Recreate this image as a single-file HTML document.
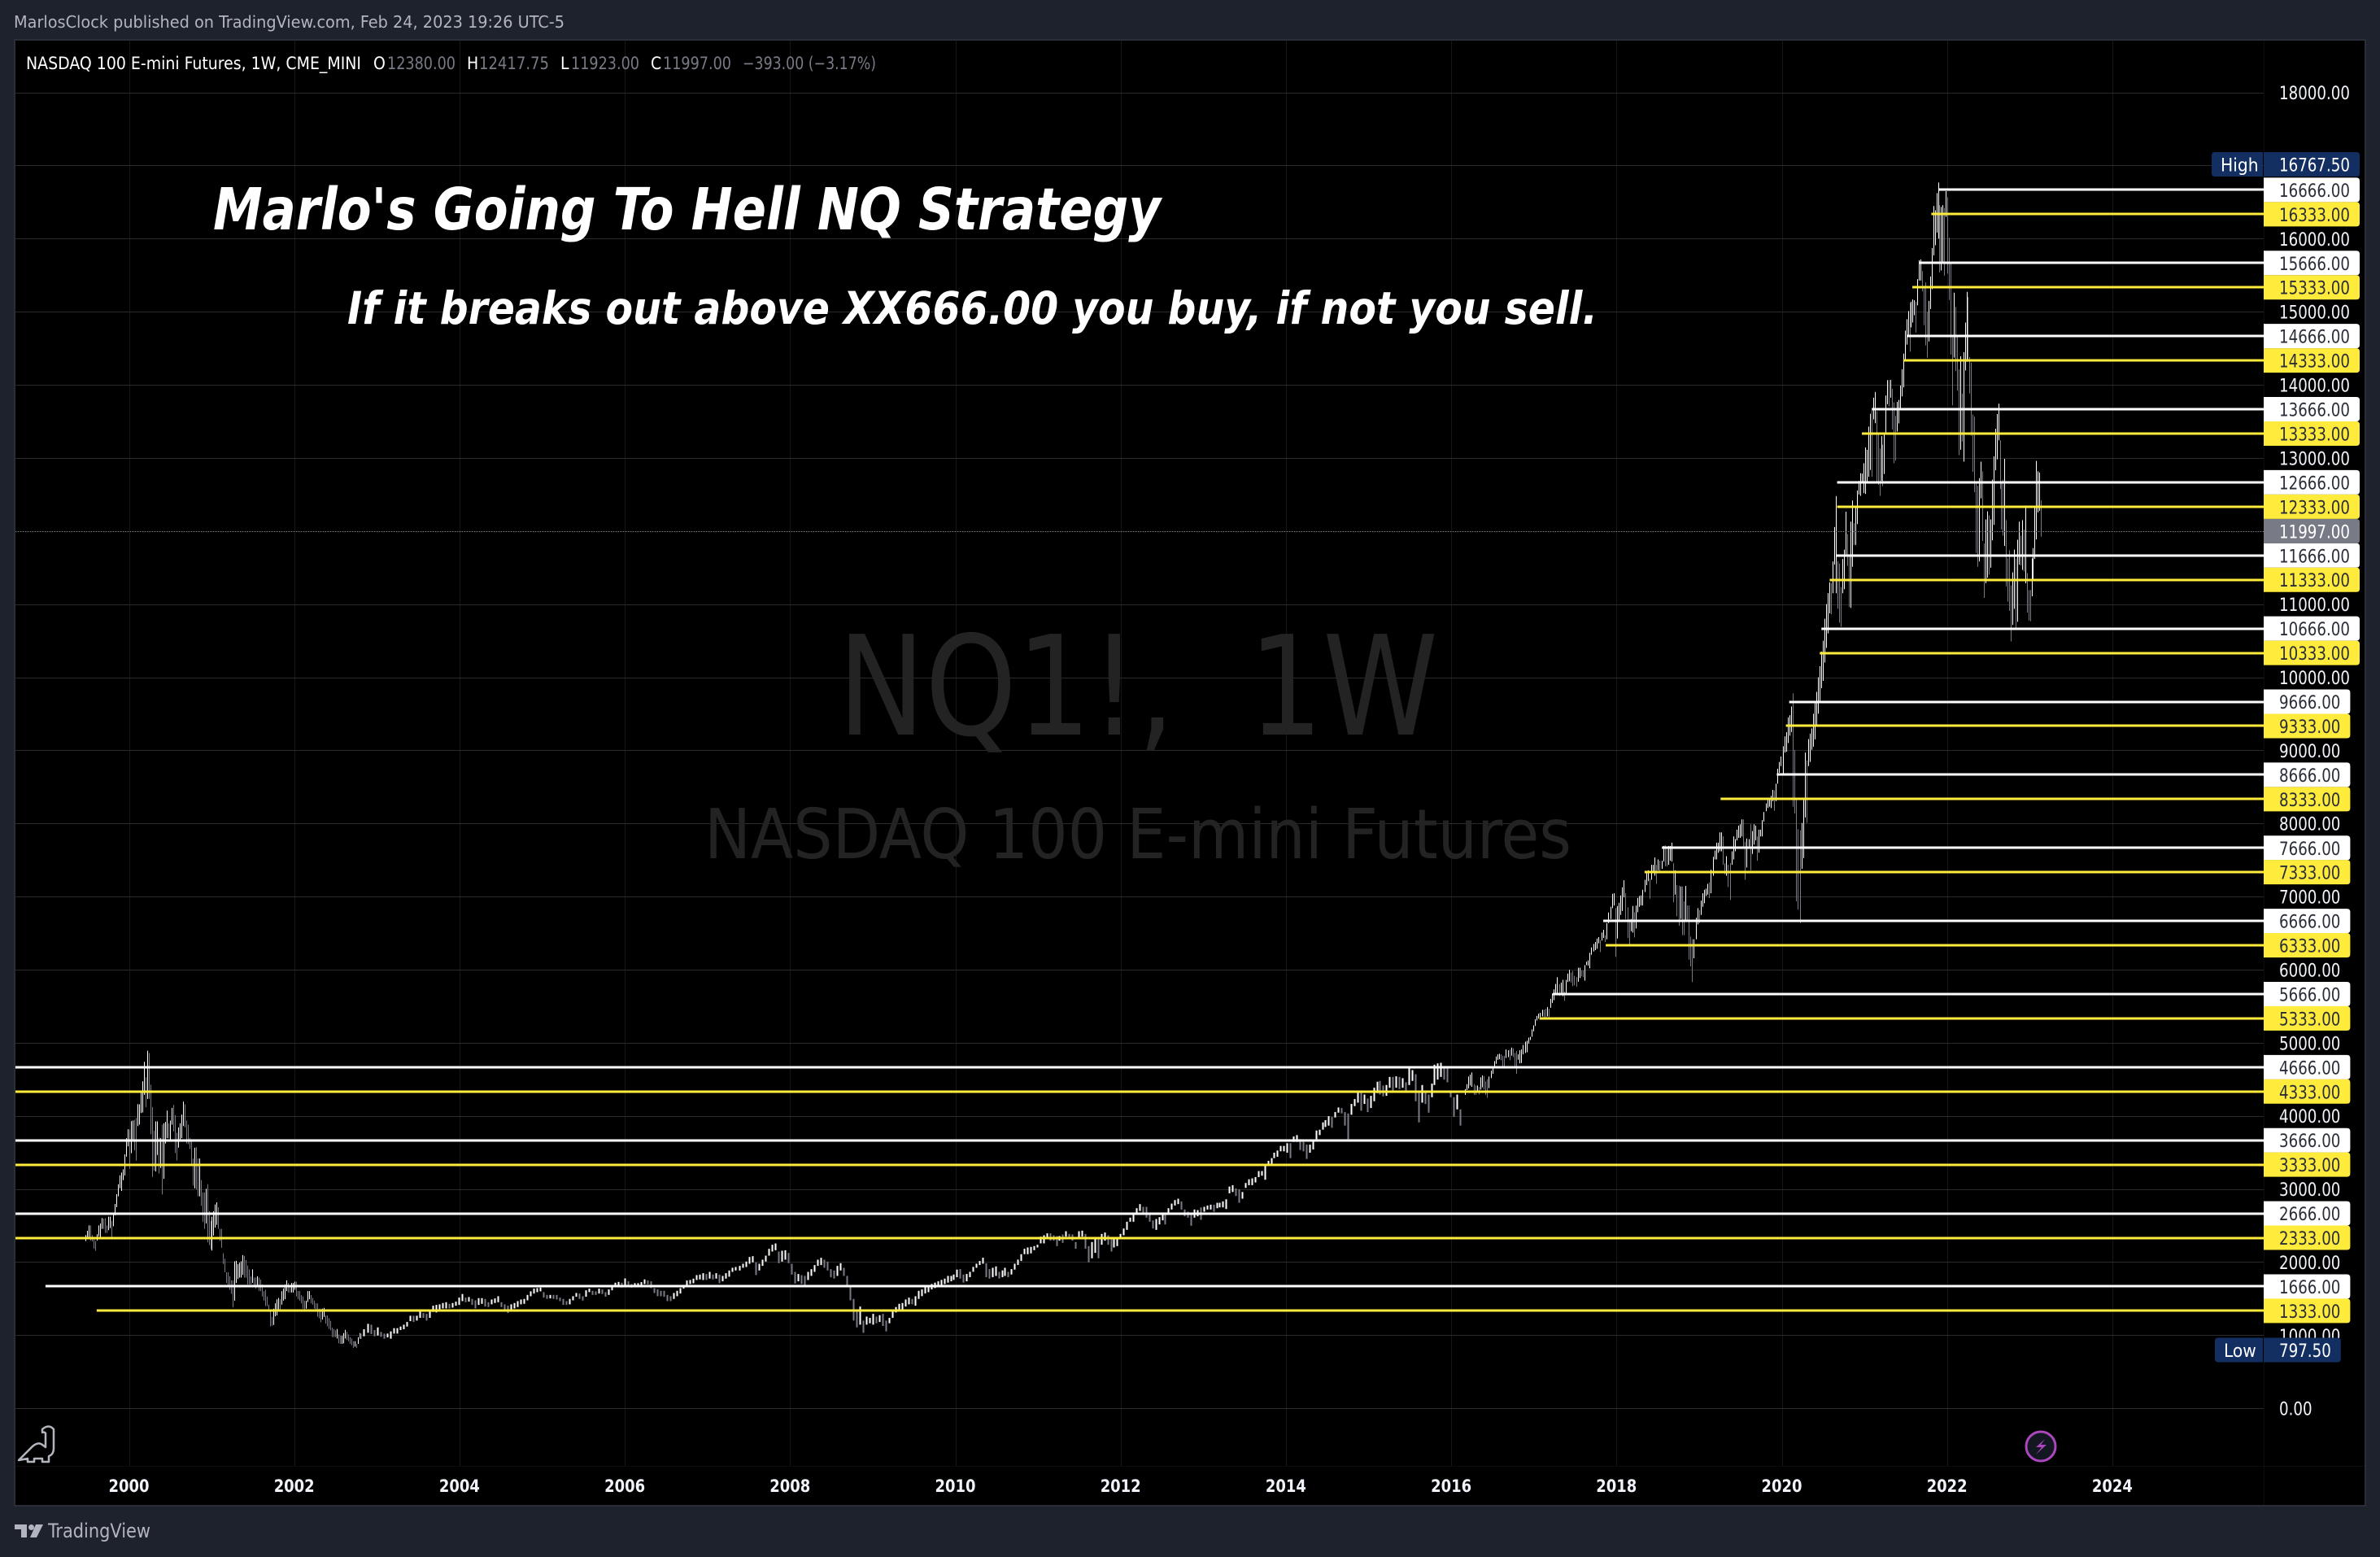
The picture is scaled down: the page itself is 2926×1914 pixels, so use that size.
<!DOCTYPE html>
<html lang="en">
<head>
<meta charset="utf-8">
<title>NASDAQ 100 E-mini Futures, 1W chart</title>
<style>
html,body{margin:0;padding:0;background:#1e222d;}
svg{display:block;}
text{font-family:"DejaVu Sans","Liberation Sans",sans-serif;font-stretch:condensed;}
</style>
</head>
<body>
<svg id="chart" xmlns="http://www.w3.org/2000/svg" width="2926" height="1914" viewBox="0 0 2926 1914">
  <rect x="0" y="0" width="2926" height="1914" fill="#1e222d"/>
  <text x="17" y="34" font-size="20.5" fill="#b2b5be" textLength="677" lengthAdjust="spacingAndGlyphs">MarlosClock published on TradingView.com, Feb 24, 2023 19:26 UTC-5</text>
  <rect x="18" y="49" width="2890" height="1802" fill="#000" stroke="#2a2e39" stroke-width="2"/>
  <g id="grid"></g>
  <text x="1030" y="903" font-size="170" fill="#232323" textLength="738" lengthAdjust="spacingAndGlyphs">NQ1!,&#160; 1W</text>
  <text x="866" y="1055" font-size="85" fill="#232323" textLength="1066" lengthAdjust="spacingAndGlyphs">NASDAQ 100 E-mini Futures</text>
  <g id="bars"></g>
  <g id="levels"></g>
  <text x="262" y="282" font-size="71" font-style="italic" font-weight="bold" fill="#fff" textLength="1165" lengthAdjust="spacingAndGlyphs">Marlo's Going To Hell NQ Strategy</text>
  <text x="427" y="398" font-size="55" font-style="italic" font-weight="bold" fill="#fff" textLength="1537" lengthAdjust="spacingAndGlyphs">If it breaks out above XX666.00 you buy, if not you sell.</text>
  <g font-size="21">
    <text x="32" y="85" fill="#fff" textLength="412" lengthAdjust="spacingAndGlyphs">NASDAQ 100 E-mini Futures, 1W, CME_MINI</text>
    <text x="459" y="85" fill="#fff">O</text>
    <text x="476" y="85" fill="#787b86" textLength="84" lengthAdjust="spacingAndGlyphs">12380.00</text>
    <text x="574" y="85" fill="#fff">H</text>
    <text x="589" y="85" fill="#787b86" textLength="86" lengthAdjust="spacingAndGlyphs">12417.75</text>
    <text x="689" y="85" fill="#fff">L</text>
    <text x="702" y="85" fill="#787b86" textLength="84" lengthAdjust="spacingAndGlyphs">11923.00</text>
    <text x="800" y="85" fill="#fff">C</text>
    <text x="815" y="85" fill="#787b86" textLength="84" lengthAdjust="spacingAndGlyphs">11997.00</text>
    <text x="913" y="85" fill="#787b86" textLength="164" lengthAdjust="spacingAndGlyphs">−393.00 (−3.17%)</text>
  </g>
  <g id="axes"></g>
  <path d="M23 1795 L40 1778 Q47 1772 52 1776 L56 1779 L56 1762 Q55 1760 52 1761 L52 1757 Q60 1750 66 1757 L66 1780 Q66 1788 60 1790 L60 1797 L52 1797 L52 1793 L42 1793 L42 1797 L34 1797 L34 1793 Z" fill="none" stroke="#b2b5be" stroke-width="2.5" stroke-linejoin="round"/>
  <g>
    <circle cx="2509" cy="1778" r="18" fill="#131722" stroke="#ab47bc" stroke-width="3"/>
    <path d="M2514 1769 L2503 1779 L2510 1779 L2503 1788 L2516 1776 L2509 1776 Z" fill="#ab47bc"/>
  </g>
  <g>
    <path d="M18 1874 H33 V1890 H26 V1880 H18 Z" fill="#b2b5be"/>
    <circle cx="38.5" cy="1877.500" r="3.500" fill="#b2b5be"/>
    <path d="M44 1874 H53 L45 1890 H37 Z" fill="#b2b5be"/>
    <text x="59" y="1890" font-size="24" fill="#b2b5be" textLength="126" lengthAdjust="spacingAndGlyphs">TradingView</text>
  </g>
</svg>
<script>
const earlyFrom = 1999.473, earlyTo = 2002.790;
const earlyHigh = [2369,2428,2502,2502,2369,2325,2288,2380,2502,2528,2602,2595,2602,2502,2621,2621,2565,2658,2795,2928,3065,3188,3225,3269,3473,3695,3817,3813,3928,3936,3947,3973,4161,4158,4324,4472,4739,4528,4891,4861,4428,4121,3798,3924,3924,3702,3695,3880,3898,3917,4073,3898,3936,4110,4150,4010,3769,3843,3898,4017,4195,4158,3936,3880,3695,3676,3417,3565,3573,3417,3417,3121,2954,2954,3002,3065,2695,2565,2621,2695,2788,2817,2751,2454,2454,2121,2047,1862,1862,1806,1751,1751,2010,2017,1973,1991,2010,2095,2084,2028,1954,1899,1806,1899,1788,1788,1806,1788,1762,1695,1603,1621,1529,1418,1343,1251,1362,1436,1492,1510,1492,1603,1640,1695,1751,1714,1677,1714,1714,1732,1732,1603,1603,1547,1529,1473,1473,1603,1603,1547,1510,1473,1436,1436,1362,1362,1362,1373,1269,1269,1232,1195,1103,1084,1066,1084,1010,992,992,1029,1073,1047,1010,973,955,918,918,881,973,1029];
const earlyLow = [2288,2325,2343,2295,2280,2184,2154,2295,2354,2343,2454,2454,2399,2399,2436,2465,2343,2491,2639,2751,2899,3010,2973,3121,3184,3443,3584,3276,3491,3658,3528,3387,3861,3880,4039,4047,4287,4121,4232,4232,3750,3165,3250,3239,3465,3213,3288,2925,3139,3621,3695,3695,3676,3880,3787,3491,3391,3565,3658,3695,3861,3843,3621,3613,3547,3325,3047,3010,2991,2899,2899,2769,2547,2454,2528,2269,2232,2177,2158,2362,2473,2510,2454,2288,2195,1973,1862,1714,1677,1621,1566,1380,1473,1714,1769,1788,1788,1825,1788,1788,1695,1695,1695,1714,1677,1640,1658,1603,1603,1529,1473,1399,1399,1343,1121,1129,1140,1258,1269,1343,1343,1418,1473,1492,1603,1584,1584,1584,1584,1621,1529,1492,1473,1436,1362,1355,1362,1455,1492,1436,1418,1362,1325,1251,1232,1177,1214,1251,1158,1121,1084,1066,973,973,973,955,888,881,881,888,955,936,918,881,862,825,844,825,881,955];

const midAFrom = 2002.805, midATo = 2009.552;
const midAHigh = [1022,1081,1155,1144,1070,1107,1044,1022,1022,1052,1096,1096,1118,1144,1181,1266,1266,1266,1329,1303,1292,1348,1403,1414,1422,1440,1451,1429,1440,1459,1514,1563,1514,1522,1496,1477,1507,1507,1496,1451,1488,1503,1533,1451,1422,1403,1422,1440,1466,1488,1496,1551,1600,1637,1644,1651,1589,1551,1551,1551,1551,1514,1496,1466,1496,1533,1577,1570,1533,1614,1637,1607,1600,1637,1626,1589,1626,1674,1718,1729,1718,1777,1737,1700,1711,1711,1726,1763,1748,1737,1644,1626,1607,1607,1551,1533,1577,1607,1644,1688,1748,1755,1774,1822,1829,1848,1837,1866,1829,1848,1829,1811,1848,1885,1922,1933,1948,1977,2007,2070,2081,1996,1977,2033,2088,2181,2237,2255,2144,2155,2162,2125,1977,1866,1837,1822,1811,1866,1903,1959,2033,2059,2033,2007,1903,1885,1948,1985,1922,1811,1681,1496,1348,1392,1200,1255,1237,1292,1255,1274,1292,1200,1237,1329,1385,1429,1440,1488,1514,1496,1533,1607];
const midALow = [948,985,1033,1015,985,996,978,952,970,952,1022,1022,1070,1081,1118,1192,1181,1200,1237,1237,1200,1237,1318,1311,1355,1366,1366,1366,1377,1403,1414,1466,1451,1459,1414,1366,1414,1429,1392,1385,1422,1440,1451,1385,1340,1303,1329,1366,1385,1422,1429,1477,1533,1570,1589,1600,1514,1496,1503,1496,1488,1466,1414,1414,1422,1477,1526,1496,1474,1526,1589,1551,1551,1570,1563,1526,1551,1614,1674,1681,1651,1688,1663,1651,1659,1659,1663,1700,1696,1644,1577,1533,1533,1526,1466,1466,1496,1533,1570,1637,1681,1700,1711,1755,1763,1755,1755,1774,1763,1774,1711,1737,1774,1800,1866,1885,1885,1922,1933,1977,1996,1822,1885,1948,2007,2088,2144,2162,1985,2007,2033,1985,1829,1707,1737,1700,1681,1755,1811,1866,1948,1959,1922,1885,1792,1774,1811,1885,1811,1663,1477,1200,1107,1144,1033,1144,1163,1144,1163,1181,1126,1052,1163,1237,1311,1348,1340,1392,1422,1422,1403,1496];

const midBFrom = 2009.592, midBTo = 2016.107;
const midBHigh = [1626,1663,1682,1700,1719,1737,1756,1774,1811,1811,1830,1897,1904,1830,1837,1867,1934,1978,2015,2060,1985,1904,1922,1941,1867,1886,1922,1867,1904,1978,2034,2108,2182,2200,2208,2219,2237,2348,2367,2393,2393,2367,2356,2356,2378,2422,2385,2378,2274,2422,2430,2385,2219,2274,2319,2330,2385,2404,2367,2330,2311,2311,2385,2459,2552,2608,2645,2737,2793,2756,2756,2645,2571,2589,2615,2663,2645,2737,2800,2848,2867,2830,2719,2689,2645,2719,2711,2748,2756,2774,2785,2785,2811,2811,2830,2859,3033,3052,3007,2996,2959,3082,3133,3145,3163,3245,3245,3330,3385,3422,3496,3526,3589,3589,3626,3626,3718,3737,3681,3644,3607,3607,3663,3800,3811,3911,3941,3996,3985,4052,4115,4107,4052,4033,4163,4230,4330,4330,4292,4237,4274,4385,4467,4478,4415,4422,4533,4533,4541,4533,4515,4459,4681,4626,4570,4348,4422,4348,4292,4441,4700,4718,4726,4681,4681,4348,4255,4292,4089];
const midBLow = [1534,1571,1589,1626,1645,1663,1682,1700,1719,1737,1756,1793,1774,1719,1737,1793,1867,1922,1960,1978,1793,1774,1793,1811,1774,1793,1811,1793,1830,1897,1960,2015,2108,2108,2119,2163,2200,2256,2256,2311,2293,2293,2219,2293,2263,2348,2311,2293,2182,2311,2348,2182,1997,2052,2126,2052,2237,2293,2237,2145,2200,2219,2311,2367,2441,2552,2552,2645,2700,2645,2608,2552,2459,2441,2515,2571,2515,2645,2719,2774,2793,2719,2626,2608,2497,2608,2626,2578,2689,2719,2719,2689,2737,2748,2748,2726,2941,2959,2904,2811,2867,3015,3052,3052,3089,3163,3182,3126,3330,3330,3422,3441,3515,3515,3496,3422,3644,3644,3533,3515,3411,3496,3541,3681,3737,3811,3848,3867,3837,3978,4044,4033,3867,3681,4015,4133,4181,4070,4163,4052,4107,4200,4311,4292,4267,4274,4385,4348,4385,4367,4385,4348,4422,4478,4200,3911,4181,4163,4044,4255,4422,4496,4533,4496,4459,4255,3985,4089,3867];

const lateAFrom = 2016.167, lateATo = 2020.362;
const lateAHigh = [4367,4434,4538,4564,4593,4434,4416,4416,4397,4527,4553,4545,4471,4501,4538,4619,4664,4749,4812,4841,4849,4841,4823,4823,4908,4897,4908,4934,4923,4860,4886,4841,4897,4908,4971,5015,5027,5071,5082,5182,5238,5323,5367,5397,5408,5452,5452,5464,5490,5464,5600,5675,5730,5804,5897,5804,5823,5860,5701,5860,5945,5997,5960,5982,5915,5897,6026,6026,5989,5989,6063,6108,6126,6230,6304,6352,6378,6426,6445,6404,6508,6545,6471,6637,6782,6860,7037,7045,6841,6871,6915,7015,7126,7222,7045,6852,6693,6693,6871,6786,6878,6982,7008,7015,7093,7230,7322,7359,7248,7434,7434,7534,7434,7508,7489,7489,7693,7700,7656,7693,7693,7737,7459,7359,7156,7148,7137,7137,6934,7145,6878,6878,6452,6415,6415,6711,6841,6815,6945,7045,7093,7108,7174,7193,7367,7545,7630,7737,7737,7878,7878,7822,7452,7552,7434,7459,7619,7822,7785,7915,7970,7989,8056,8056,7748,7793,7785,7989,7896,7989,7970,7822,7915,7915,8045,8156,8274,8341,8322,8378,8459,8452,8544,8748,8841,8915,9055,9192,9248,9450,9480,9600,9780,9007,8341,7922,7907,8007,8322,8970,8859,9155,9230,9300];
const lateALow = [4286,4353,4375,4416,4397,4286,4286,4323,4293,4360,4390,4360,4286,4249,4379,4516,4575,4656,4712,4767,4775,4760,4675,4645,4793,4804,4760,4823,4804,4664,4575,4767,4719,4723,4841,4860,4871,4990,5038,5082,5156,5230,5304,5330,5352,5360,5341,5323,5360,5352,5478,5545,5582,5656,5675,5638,5656,5638,5575,5675,5830,5841,5823,5775,5786,5767,5834,5886,5908,5897,5849,6063,6056,6019,6204,6249,6267,6286,6360,6241,6397,6434,6378,6415,6637,6693,6841,6878,6175,6426,6656,6748,6804,6989,6693,6434,6323,6526,6508,6441,6563,6786,6860,6878,6878,7063,7156,7211,6971,7230,7322,7285,7174,7359,7341,7378,7478,7415,7415,7434,7489,7478,6923,7026,6730,6600,6693,6471,6471,6656,6656,6137,6045,5830,6156,6415,6619,6637,6748,6860,6908,7008,7026,6978,7045,7285,7508,7508,7600,7619,7619,7434,7304,7285,7130,6952,7434,7508,7619,7767,7804,7804,7822,7656,7230,7397,7656,7359,7582,7711,7767,7489,7600,7822,7822,8026,8167,8211,8230,8211,8304,8174,8304,8544,8693,8785,8674,8970,8981,9100,9200,9250,8230,8137,6934,6822,6637,7378,7526,8082,8008,8785,8841,9007];

const lateBFrom = 2020.382, lateBTo = 2020.914;
const lateBHigh = [9500,9650,9800,10000,10150,10350,10500,10800,11000,11150,11298,11285,11583,12055,12477,11587,11553,11234,11617,11745,12264,11958,11681,12128,12417,12107,12319,12553];
const lateBLow = [9050,9150,9350,9500,9650,9850,9950,10200,10400,10600,10873,10860,11149,11541,11149,10936,10745,10690,11149,11204,11681,11524,10958,10949,11511,11809,11809,12094];

const peakFrom = 2020.933, peakTo = 2022.330;
const peakHigh = [12686,12790,12786,12927,13142,13112,13427,13604,13649,13823,13901,13638,13334,13130,13297,13179,13334,13853,14064,14064,14067,13945,13760,13575,13767,13793,13990,14215,14426,14741,14897,15008,15123,15137,15167,15156,15137,15445,15704,15715,15556,15352,15400,15000,15148,15482,15871,16445,16389,16622,16767,16456,16433,16456,16419,16648,16567,16011,15656,14649,15260,15067,14667,14212,14389,13882,14445,14852,15271,15204,14378,14304,13593,13564];
const peakLow = [12500,12482,12649,12519,12508,12667,12742,12834,12742,13527,13475,12667,12631,12482,12686,12612,12779,13316,13734,13704,13823,13390,12927,12964,13360,13471,13667,13841,13964,14345,14549,14667,14452,14786,14852,14952,14715,15086,15426,15426,15278,14815,14538,14371,14593,15037,15308,15771,15908,16082,16000,15537,15563,15667,15493,16297,15519,15160,14415,13719,14371,14186,13919,13038,13112,13223,12949,14197,14315,14352,13882,13304,12808,12531];

const recentFrom = 2022.350, recentTo = 2023.137;
const recentHigh = [12660,12617,12723,12949,12817,11830,12158,12268,12213,12158,12702,13021,13400,13600,13741,13241,12681,12702,12987,12149,11626,11736,11256,11434,11745,11626,11881,12128,11936,12149,12021,12349,11426,11192,11192,11626,11766,12319,12958,12817,12800,12417.75];
const recentLow = [11702,11511,11583,12447,11864,11085,11285,11362,11404,11498,11872,12085,12830,12980,13241,12575,12021,11936,11796,11243,11034,10907,10490,10715,10936,10651,10758,11541,11532,11468,11447,11285,10885,10775,10766,11107,11319,11617,11885,12255,12277,11923];

const gridPrices = [0,1000,2000,3000,4000,5000,6000,7000,8000,9000,10000,11000,12000,13000,14000,15000,16000,17000,18000];
const priceTickLabels = [0,1000,2000,3000,4000,5000,6000,7000,8000,9000,10000,11000,13000,14000,15000,16000,18000];
const yearTicks = [2000,2002,2004,2006,2008,2010,2012,2014,2016,2018,2020,2022,2024];

const whiteLevels = [1666,2666,3666,4666,5666,6666,7666,8666,9666,10666,11666,12666,13666,14666,15666,16666];
const whiteLevelStarts = [1998.99,null,null,null,2017.23,2017.84,2018.55,2019.94,2020.09,2020.48,2020.66,2020.67,2021.09,2021.52,2021.66,2021.90];
const yellowLevels = [1333,2333,3333,4333,5333,6333,7333,8333,9333,10333,11333,12333,13333,14333,15333,16333];
const yellowLevelStarts = [1999.61,null,null,null,2017.07,2017.87,2018.34,2019.26,2020.05,2020.46,2020.58,2020.67,2020.97,2021.47,2021.58,2021.81];

const lastClose = 11997;
const allTimeHigh = 16767.50;
const allTimeLow = 797.50;

const NS = 'http://www.w3.org/2000/svg';
const plotLeft = 19, plotRight = 2783, plotTop = 50, axisTop = 1802, plotBottom = 1850;
function xScale(year){ return 158.5 + 101.6 * (year - 2000); }
function yScale(price){ return 1731.2 - 0.08987 * price; }
function svgEl(tag, attrs, parent){
  const el = document.createElementNS(NS, tag);
  for (const k in attrs) el.setAttribute(k, attrs[k]);
  parent.appendChild(el);
  return el;
}
function labelWidth(str){
  let w = 0;
  for (const c of str) w += (c === '.') ? 5.8 : 11.6;
  return w;
}

const gridG = document.getElementById('grid');
for (const yr of yearTicks){
  const el = svgEl('line', {x1:Math.round(xScale(yr))+0.5, x2:Math.round(xScale(yr))+0.5, y1:plotTop, y2:axisTop, stroke:'#161616', 'stroke-width':1}, gridG);
  
  
}
for (const p of gridPrices){
  const el = svgEl('line', {x1:plotLeft, x2:plotRight, y1:Math.round(yScale(p))+0.5, y2:Math.round(yScale(p))+0.5, stroke:'#2b2b2b', 'stroke-width':1}, gridG);
  
  
}
const axisV = svgEl('line', {x1:plotRight+0.5, x2:plotRight+0.5, y1:plotTop, y2:plotBottom, stroke:'#0d0d0d', 'stroke-width':1}, gridG);


const axisH = svgEl('line', {x1:plotLeft, x2:2907, y1:axisTop+0.5, y2:axisTop+0.5, stroke:'#0d0d0d', 'stroke-width':1}, gridG);



const barsG = document.getElementById('bars');
const segments = [
  {high:earlyHigh, low:earlyLow, from:earlyFrom, to:earlyTo, width:1},
  {high:midAHigh, low:midALow, from:midAFrom, to:midATo, width:2},
  {high:midBHigh, low:midBLow, from:midBFrom, to:midBTo, width:2},
  {high:lateAHigh, low:lateALow, from:lateAFrom, to:lateATo, width:1},
  {high:lateBHigh, low:lateBLow, from:lateBFrom, to:lateBTo, width:1},
  {high:peakHigh, low:peakLow, from:peakFrom, to:peakTo, width:1},
  {high:recentHigh, low:recentLow, from:recentFrom, to:recentTo, width:1}
];
let prevMid = null;
for (const seg of segments){
  const n = Math.min(seg.high.length, seg.low.length);
  for (let i = 0; i < n; i++){
    const year = seg.from + (seg.to - seg.from) * i / (n - 1);
    const mid = (seg.high[i] + seg.low[i]) / 2;
    const up = prevMid === null || mid >= prevMid;
    prevMid = mid;
    const px = Math.round(xScale(year)) + 0.5;
    const bar = svgEl('line', {x1:px, x2:px, y1:yScale(seg.high[i]), y2:yScale(seg.low[i]), stroke: up ? '#ffffff' : '#787b86', 'stroke-width':seg.width}, barsG);
    
    
  }
}

const levelsG = document.getElementById('levels');
const lastLine = svgEl('line', {x1:plotLeft, x2:plotRight, y1:Math.round(yScale(lastClose))+0.5, y2:Math.round(yScale(lastClose))+0.5, stroke:'#787b86', 'stroke-width':1, 'stroke-dasharray':'1 2'}, levelsG);


function drawLevels(prices, starts, color){
  for (let i = 0; i < prices.length; i++){
    const y = Math.round(yScale(prices[i]));
    const x1 = starts[i] === null ? plotLeft : xScale(starts[i]);
    const ln = svgEl('rect', {x:x1, y:y-1.5, width:plotRight - x1, height:3, fill:color}, levelsG);
    
    
  }
}
drawLevels(whiteLevels, whiteLevelStarts, '#ffffff');
drawLevels(yellowLevels, yellowLevelStarts, '#ffeb3b');

const axesG = document.getElementById('axes');
const axisBg = svgEl('rect', {x:plotRight+1, y:plotTop, width:2907-plotRight-1, height:axisTop-plotTop, fill:'#000'}, axesG);



function valueText(str, x, y, fill){
  const t = svgEl('text', {x:x, y:y+8.5, 'font-size':22.5, fill:fill, textLength:labelWidth(str), lengthAdjust:'spacingAndGlyphs'}, axesG);
  t.textContent = str;
  return t;
}
function priceBox(x, cy, w, fill){
  const top = cy - 15, r = 4;
  return svgEl('path', {d:`M${x} ${top} H${x+w-r} Q${x+w} ${top} ${x+w} ${top+r} V${top+30-r} Q${x+w} ${top+30} ${x+w-r} ${top+30} H${x} Z`, fill:fill}, axesG);
}

for (const p of priceTickLabels){
  const t = valueText(p.toFixed(2), 2802, yScale(p), '#f0f3fa');
  
  
}
for (const yr of yearTicks){
  const t = svgEl('text', {x:xScale(yr), y:1834, 'font-size':21, 'font-weight':'bold', fill:'#f0f3fa', 'text-anchor':'middle', textLength:50, lengthAdjust:'spacingAndGlyphs'}, axesG);
  t.textContent = String(yr);
  
  
}
function drawLevelLabels(prices, fill, ink){
  for (const p of prices){
    const str = p.toFixed(2);
    const cy = yScale(p);
    const box = priceBox(2783, cy, 19 + labelWidth(str) + 12, fill);
    
    
    const t = valueText(str, 2802, cy, ink);
    
    
  }
}
drawLevelLabels(whiteLevels, '#ffffff', '#2a2e39');
drawLevelLabels(yellowLevels, '#ffeb3b', '#2a2e39');
drawLevelLabels([lastClose], '#787b86', '#ffffff');

function drawExtreme(word, value, cy, wordW){
  const str = value.toFixed(2);
  const w = 19 + labelWidth(str) + 12;
  const box = priceBox(2783, cy, w, '#132f62');
  
  
  const tag = svgEl('path', {d:`M2782 ${cy-15} H${2782-wordW+4} Q${2782-wordW} ${cy-15} ${2782-wordW} ${cy-11} V${cy+11} Q${2782-wordW} ${cy+15} ${2782-wordW+4} ${cy+15} H2782 Z`, fill:'#132f62'}, axesG);
  
  
  const t = svgEl('text', {x:2782-wordW+11, y:cy+8.5, 'font-size':22.5, fill:'#ffffff'}, axesG);
  t.textContent = word;
  
  
  const v = valueText(str, 2802, cy, '#ffffff');
  
  
}
drawExtreme('High', allTimeHigh, 202, 63);
drawExtreme('Low', allTimeLow, 1659.5, 59);
</script>
</body>
</html>
